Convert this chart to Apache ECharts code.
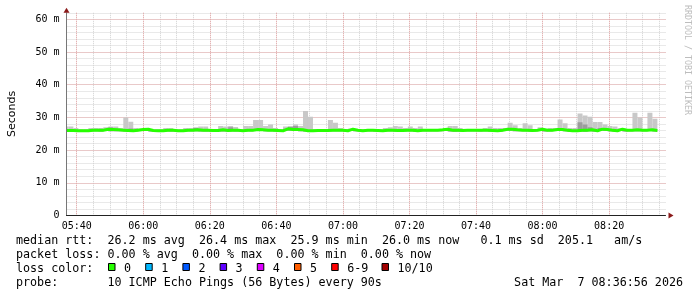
<!DOCTYPE html>
<html>
<head>
<meta charset="utf-8">
<script src="https://cdn.jsdelivr.net/npm/echarts@6/dist/echarts.min.js"></script>
<style>
html,body{margin:0;padding:0;background:#fff;}
#c{width:697px;height:297px;}
</style>
</head>
<body>
<div id="c"></div>
<script>
// ---- time grid (minutes since midnight) ----
const START_MIN = 336 + 56 / 60;   // 05:36:56, graph start
const END_MIN = START_MIN + 180;   // 08:36:56, graph end
const FIRST_STEP = 337.5;          // 05:37:30, first 90 s boundary
const STEP_MIN = 1.5;              // 90 s step

// ---- per-step values (ms), one entry per 90 s interval ----
const rttMedian = [
 26.0,26.0,25.9,25.9,25.9,26.1,26.1,26.1,26.4,26.3,
 26.2,26.1,26.0,25.9,26.1,26.3,26.4,26.0,25.9,25.9,
 26.1,26.1,25.9,25.9,26.1,26.1,26.2,26.1,26.1,26.0,
 26.0,26.2,26.0,26.1,26.1,25.9,26.1,26.1,26.3,26.2,
 26.1,26.1,26.0,25.9,26.5,26.3,26.3,26.2,25.9,25.9,
 26.0,26.0,26.0,26.1,26.1,26.1,25.9,26.4,26.1,25.9,
 26.1,26.1,26.0,25.9,26.1,26.1,26.0,26.0,26.1,26.1,
 25.9,26.1,26.1,26.1,26.1,26.2,26.4,26.1,26.1,26.0,
 26.1,26.1,26.1,26.1,26.1,26.0,25.9,26.1,26.4,26.4,
 26.2,26.1,26.1,26.0,26.1,26.4,26.1,26.1,26.3,26.3,
 26.1,25.9,25.9,26.1,26.1,26.2,25.9,26.4,26.3,26.1,
 25.9,26.4,26.1,26.1,26.2,26.1,26.1,26.2,26.0
];
const rttMin = [
 25.6,25.6,25.7,25.7,25.7,25.8,25.8,25.7,25.9,25.8,
 25.8,25.8,25.7,25.6,25.8,25.9,25.9,25.7,25.6,25.7,
 25.8,25.7,25.7,25.7,25.8,25.8,25.8,25.7,25.7,25.7,
 25.8,25.7,25.7,25.8,25.7,25.7,25.8,25.8,25.9,25.9,
 25.8,25.8,25.7,25.6,25.9,25.9,25.9,25.8,25.7,25.7,
 25.7,25.7,25.7,25.8,25.8,25.8,25.7,25.9,25.8,25.7,
 25.8,25.8,25.7,25.6,25.8,25.8,25.7,25.7,25.8,25.8,
 25.6,25.8,25.8,25.8,25.8,25.8,25.9,25.7,25.6,25.7,
 25.8,25.8,25.8,25.7,25.8,25.7,25.6,25.7,25.9,25.9,
 25.8,25.8,25.8,25.7,25.8,25.9,25.7,25.8,25.9,25.9,
 25.8,25.6,25.6,25.7,25.6,25.8,25.6,25.9,25.9,25.8,
 25.6,25.9,25.7,25.8,25.8,25.8,25.8,25.9,25.7
];
const rttMax = [
 27.2,27.2,26.8,26.4,26.4,26.8,26.8,26.8,27.0,27.2,
 27.2,26.8,30.0,28.7,26.8,26.6,26.8,26.4,26.4,26.4,
 26.8,26.8,26.4,26.4,26.8,26.8,27.0,27.2,27.2,26.4,
 26.4,27.4,27.2,27.4,27.1,26.4,27.4,27.4,29.2,29.2,
 27.4,27.8,26.8,26.4,27.2,27.4,27.8,27.4,32.0,30.2,
 26.4,26.4,26.2,29.2,28.4,26.8,26.4,26.6,26.4,26.4,
 26.4,26.4,26.4,26.4,26.8,27.0,27.4,27.2,26.8,27.2,
 26.8,27.2,26.4,26.4,26.4,26.4,26.6,27.4,27.4,26.8,
 26.4,26.4,26.4,26.4,26.8,27.2,26.8,26.8,26.8,28.4,
 27.6,26.8,28.2,27.6,26.4,27.0,26.4,26.8,26.8,29.4,
 28.2,26.8,26.8,31.2,30.6,30.2,28.6,28.6,27.8,27.4,
 27.2,26.8,26.4,26.4,31.4,30.0,26.4,31.4,29.6
];
// upper edge of the darker inner smoke (from rttMin up)
const rttInner = [
 26.0,26.0,25.9,25.9,25.9,26.1,26.1,26.1,26.4,26.9,
 26.2,26.1,26.0,26.6,26.1,26.3,26.4,26.0,25.9,25.9,
 26.1,26.1,25.9,25.9,26.1,26.1,26.8,26.1,26.1,26.0,
 26.0,26.2,26.0,27.0,26.1,25.9,26.1,26.1,26.3,26.2,
 26.1,26.1,26.0,25.9,26.5,27.1,27.4,26.2,25.9,25.9,
 26.0,26.0,26.0,26.1,26.1,26.1,25.9,26.4,26.1,25.9,
 26.1,26.1,26.0,25.9,26.1,26.1,26.0,26.0,26.1,26.1,
 25.9,26.1,26.1,26.1,26.1,26.2,26.4,26.1,26.1,26.0,
 26.1,26.1,26.1,26.1,26.1,26.0,25.9,26.1,26.4,26.4,
 26.2,26.1,26.1,26.0,26.1,26.4,26.1,26.1,26.3,26.3,
 26.1,25.9,25.9,28.5,27.8,27.0,25.9,26.8,26.3,26.1,
 25.9,26.4,26.1,26.1,26.2,26.1,26.1,26.2,26.0
];

// ---- axis / legend texts ----
const lossColors = ['#26ff00','#00b8ff','#0059ff','#5e00ff','#dd00ff','#ff5e00','#ff0000','#a10000'];
const lossLabels = ['0','1','2','3','4','5','6-9','10/10'];
const legendLines = [
  'median rtt:  26.2 ms avg  26.4 ms max  25.9 ms min  26.0 ms now   0.1 ms sd  205.1   am/s',
  'packet loss: 0.00 % avg  0.00 % max  0.00 % min  0.00 % now',
  'loss color:',
  'probe:       10 ICMP Echo Pings (56 Bytes) every 90s'
];
const dateText = 'Sat Mar  7 08:36:56 2026';
const watermark = 'RRDTOOL / TOBI OETIKER';
const yAxisTitle = 'Seconds';

// ---- layout ----
const PLOT_LEFT = 66.5, PLOT_W = 599, PLOT_TOP = 12.8, PLOT_BOTTOM_Y = 215.5;
const Y_MAX = 62;
const W = 697, H = 297;
const PX_PER_MIN = PLOT_W / (END_MIN - START_MIN);
const BOTTOM = H - PLOT_BOTTOM_Y;
// vertical grid-line axes use bounds that are multiples of their interval
const MINOR_X = {min: 335, max: 520, interval: 5};
const MAJOR_X = {min: 320, max: 520, interval: 20};
function gridForX(ax) {
  const l = PLOT_LEFT - (START_MIN - ax.min) * PX_PER_MIN;
  const r = PLOT_LEFT + (ax.max - START_MIN) * PX_PER_MIN;
  return {left: l, right: W - r, top: PLOT_TOP, bottom: BOTTOM, containLabel: false, outerBoundsMode: 'none'};
}

// ---- build step timestamps (interval starts + final end) ----
const times = [START_MIN];
for (let j = 1; j < rttMedian.length; j++) times.push(FIRST_STEP + (j - 1) * STEP_MIN);
times.push(FIRST_STEP + (rttMedian.length - 1) * STEP_MIN);

const medianData = times.map((t, i) => [t, rttMedian[Math.min(i, rttMedian.length - 1)]]);
const smokeData = rttMax.map((v, j) => [times[j], times[j + 1], rttMin[j], v]);
const innerData = rttInner.map((v, j) => [times[j], times[j + 1], rttMin[j], v]);

const MONO = '"DejaVu Sans Mono", monospace';
const RED = '#e8a8a8';
const GRAY = '#d2d2d2';

function hhmm(v) {
  const h = Math.floor(v / 60 + 1e-6), m = Math.round(v - h * 60);
  return String(h).padStart(2, '0') + ':' + String(m).padStart(2, '0');
}

function bandRender(color) {
  return function (params, api) {
    const p0 = api.coord([api.value(0), api.value(3)]);
    const p1 = api.coord([api.value(1), api.value(2)]);
    return {type: 'rect', shape: {x: p0[0], y: p0[1], width: p1[0] - p0[0], height: p1[1] - p0[1]},
            style: {fill: color}};
  };
}

const chart = echarts.init(document.getElementById('c'), null, {renderer: 'canvas'});

const graphics = [];
const LX = 16;
const lineY = [240.8, 255, 269, 283.2];
function txt(t, x, y, align, size, fill, family) {
  return {type: 'text', x: x, y: y, silent: true,
    style: {text: t, fill: fill || '#000', fontSize: size || 11.7, fontFamily: family || MONO,
            align: align, verticalAlign: 'middle', textAlign: align, textVerticalAlign: 'middle'}};
}
legendLines.forEach((t, i) => graphics.push(txt(t, LX, lineY[i], 'left')));
graphics.push(txt(dateText, 683, lineY[3], 'right'));
const sqX = [108.5, 145.7, 182.9, 220.1, 257.3, 294.5, 331.7, 382];
lossColors.forEach((c, i) => {
  graphics.push({type: 'rect', silent: true, shape: {x: sqX[i], y: 263.5, width: 6.5, height: 7},
    style: {fill: c, stroke: '#000', lineWidth: 1}});
  graphics.push(txt(lossLabels[i], sqX[i] + 15.5, lineY[2], 'left'));
});
const wm = txt(watermark, 687, 5, 'left', 8.3, '#bdbdbd');
wm.rotation = -Math.PI / 2;
graphics.push(wm);
const yt = txt(yAxisTitle, 11.7, 114, 'center', 11, '#000', '"DejaVu Sans", sans-serif');
yt.rotation = Math.PI / 2;
graphics.push(yt);

const hidden = {axisLine: {show: false}, axisTick: {show: false}, axisLabel: {show: false}, splitLine: {show: false}};
const dotted = c => ({show: true, showMinLine: false, showMaxLine: false, lineStyle: {color: c, type: [1, 1], width: 1}});
const arrowLine = off => ({show: true, symbol: ['none', 'triangle'], symbolSize: [6, 5], symbolOffset: [0, off],
  lineStyle: {color: '#8b1a1a', width: 0, opacity: 0}});

chart.setOption({
  backgroundColor: '#ffffff',
  animation: false,
  grid: [
    {left: PLOT_LEFT, right: W - PLOT_LEFT - PLOT_W, top: PLOT_TOP, bottom: BOTTOM,
     containLabel: false, outerBoundsMode: 'none'},                                    // data
    gridForX(MINOR_X),                                                                 // minor verticals
    gridForX(MAJOR_X)                                                                  // major verticals + time labels
  ],
  xAxis: [
    Object.assign({}, hidden, {gridIndex: 0, type: 'value', position: 'bottom', min: START_MIN, max: END_MIN, z: 5,
      axisLine: {show: true, lineStyle: {color: '#222', width: 1}}}),
    Object.assign({}, hidden, {gridIndex: 0, type: 'value', position: 'bottom', min: START_MIN, max: END_MIN, z: 5,
      axisLine: arrowLine(5.5)}),
    Object.assign({}, hidden, {gridIndex: 1, type: 'value', position: 'bottom', z: 0,
      min: MINOR_X.min, max: MINOR_X.max, interval: MINOR_X.interval, splitLine: dotted(GRAY)}),
    Object.assign({}, hidden, {gridIndex: 2, type: 'value', position: 'bottom', z: 1,
      min: MAJOR_X.min, max: MAJOR_X.max, interval: MAJOR_X.interval, splitLine: dotted(RED),
      axisLabel: {show: true, margin: 6, color: '#000', fontSize: 10, fontFamily: MONO,
        formatter: v => (v > START_MIN && v < END_MIN ? hhmm(v) : '')}})
  ],
  yAxis: [
    Object.assign({}, hidden, {gridIndex: 0, type: 'value', position: 'left', min: 0, max: Y_MAX, interval: 2, z: 0,
      splitLine: {show: true, lineStyle: {color: GRAY, type: [1, 1], width: 1}}}),
    Object.assign({}, hidden, {gridIndex: 0, type: 'value', position: 'left', min: 0, max: Y_MAX, interval: 10, z: 1,
      splitLine: dotted(RED),
      axisLabel: {show: true, margin: 7, color: '#000', fontSize: 10, fontFamily: MONO,
        formatter: v => (v === 0 ? '0' : (v % 10 === 0 ? v + ' m' : ''))}}),
    Object.assign({}, hidden, {gridIndex: 0, type: 'value', position: 'left', min: 0, max: Y_MAX, z: 5,
      axisLine: {show: true, lineStyle: {color: '#777', width: 1}}}),
    Object.assign({}, hidden, {gridIndex: 0, type: 'value', position: 'left', min: 0, max: Y_MAX, z: 5,
      axisLine: arrowLine(2.5)}),
    Object.assign({}, hidden, {gridIndex: 1, type: 'value', min: 0, max: Y_MAX}),
    Object.assign({}, hidden, {gridIndex: 2, type: 'value', min: 0, max: Y_MAX})
  ],
  series: [
    {type: 'custom', name: 'smoke', xAxisIndex: 0, yAxisIndex: 0, z: 2, silent: true, clip: true,
     encode: {x: [0, 1], y: [2, 3]}, data: smokeData, renderItem: bandRender('#c8c8c8')},
    {type: 'custom', name: 'inner', xAxisIndex: 0, yAxisIndex: 0, z: 2, silent: true, clip: true,
     encode: {x: [0, 1], y: [2, 3]}, data: innerData, renderItem: bandRender('#9c9c9c')},
    {type: 'line', name: 'median', xAxisIndex: 0, yAxisIndex: 0, z: 3, silent: true,
     showSymbol: false, step: 'end', data: medianData, lineStyle: {color: '#26ff00', width: 3}}
  ],
  graphic: graphics
});
</script>
</body>
</html>
